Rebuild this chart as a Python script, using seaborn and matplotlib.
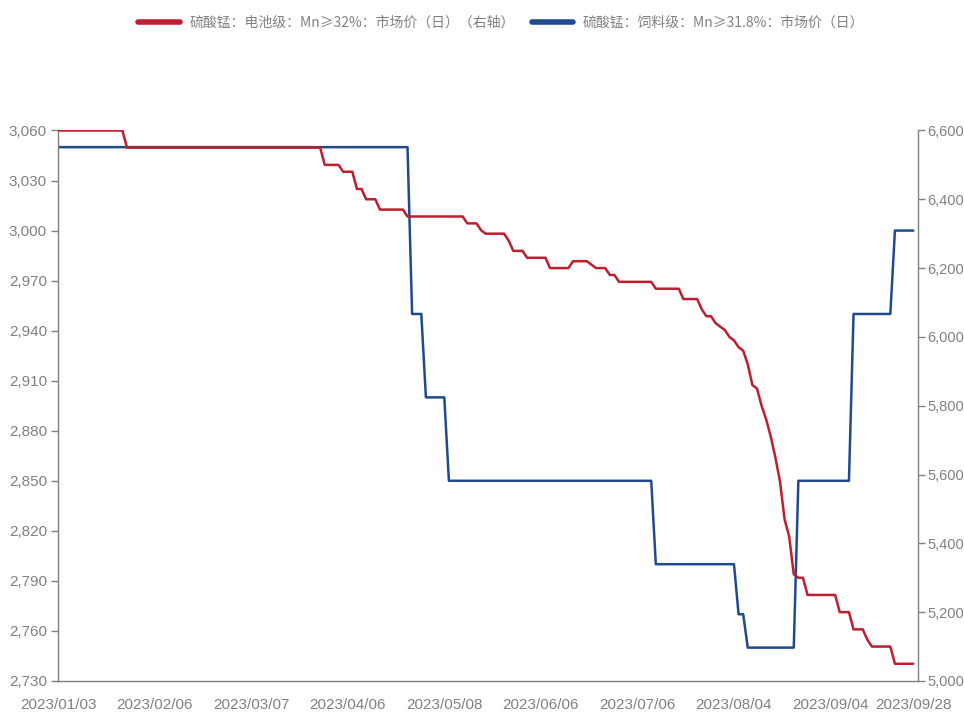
import pandas as pd
import numpy as np
import seaborn as sns
import matplotlib.pyplot as plt
from matplotlib.lines import Line2D
from matplotlib.ticker import FuncFormatter

# ===============================
# Trading calendar (China 2023, incl. weekend make-up workdays)
# ===============================
holidays = ["2023-01-02", "2023-01-23", "2023-01-24", "2023-01-25", "2023-01-26",
            "2023-01-27", "2023-04-05", "2023-05-01", "2023-05-02", "2023-05-03",
            "2023-06-22", "2023-06-23"]
makeup_days = ["2023-01-28", "2023-01-29", "2023-04-23", "2023-05-06", "2023-06-25"]

days = pd.bdate_range("2023-01-03", "2023-09-28")
days = days[~days.isin(pd.to_datetime(holidays))]
days = days.union(pd.to_datetime(makeup_days)).sort_values()

# ===============================
# Price change points
# ===============================
battery_dates = ["2023-01-03", "2023-01-29", "2023-03-29", "2023-04-04", "2023-04-10",
                 "2023-04-12", "2023-04-17", "2023-04-24", "2023-05-15", "2023-05-18",
                 "2023-05-19", "2023-05-26", "2023-05-29", "2023-06-01", "2023-06-08",
                 "2023-06-15", "2023-06-21", "2023-06-25", "2023-06-28", "2023-06-30",
                 "2023-07-12", "2023-07-20", "2023-07-26", "2023-07-27", "2023-07-31",
                 "2023-08-01", "2023-08-02", "2023-08-03", "2023-08-04", "2023-08-07",
                 "2023-08-08", "2023-08-09", "2023-08-10", "2023-08-11", "2023-08-14",
                 "2023-08-15", "2023-08-16", "2023-08-17", "2023-08-18", "2023-08-21",
                 "2023-08-22", "2023-08-23", "2023-08-24", "2023-08-28", "2023-09-06",
                 "2023-09-11", "2023-09-14", "2023-09-15", "2023-09-22"]
battery_price = [6600, 6550, 6500, 6480, 6430,
                 6400, 6370, 6350, 6330, 6310,
                 6300, 6280, 6250, 6230, 6200,
                 6220, 6210, 6200, 6180, 6160,
                 6140, 6110, 6080, 6060, 6040,
                 6030, 6020, 6000, 5990, 5970,
                 5960, 5920, 5860, 5850, 5800,
                 5760, 5710, 5650, 5580, 5470,
                 5420, 5310, 5300, 5250, 5200,
                 5150, 5120, 5100, 5050]

feed_dates = ["2023-01-03", "2023-04-25", "2023-04-28", "2023-05-09", "2023-07-12",
              "2023-08-07", "2023-08-09", "2023-08-24", "2023-09-11", "2023-09-22"]
feed_price = [3050, 2950, 2900, 2850, 2800,
              2770, 2750, 2850, 2950, 3000]

battery = pd.Series(battery_price, index=pd.to_datetime(battery_dates)).reindex(days).ffill()
feed = pd.Series(feed_price, index=pd.to_datetime(feed_dates)).reindex(days).ffill()

data = pd.DataFrame({"idx": np.arange(len(days)),
                     "battery": battery.values,
                     "feed": feed.values})

label_battery = "硫酸锰：电池级：Mn≥32%：市场价（日）（右轴）"
label_feed = "硫酸锰：饲料级：Mn≥31.8%：市场价（日）"

red = "#BE1E2D"
blue = "#1F4B8E"
gray = "#808080"

# ===============================
# Plot
# ===============================
sns.set_style("white")
plt.rcParams['font.family'] = ['Liberation Sans', 'Noto Sans CJK SC', 'DejaVu Sans']

fig = plt.figure(figsize=(9.64, 7.2), dpi=100)
ax = fig.add_axes([0.0602, 0.0542, 0.892, 0.7646])
ax2 = ax.twinx()

sns.lineplot(data=data, x="idx", y="feed", ax=ax, color=blue, lw=1.8)
sns.lineplot(data=data, x="idx", y="battery", ax=ax2, color=red, lw=1.8)

n = len(days)
ax.set_xlim(0, n)
ax.set_ylim(2730, 3060)
ax.set_yticks(np.arange(2730, 3061, 30))
ax2.set_ylim(5000, 6600)
ax2.set_yticks(np.arange(5000, 6601, 200))

tick_pos = list(range(0, n, 21))
if tick_pos[-1] != n - 1:
    tick_pos.append(n - 1)
ax.set_xticks(tick_pos)
ax.set_xticklabels([days[i].strftime("%Y/%m/%d") for i in tick_pos])

fmt = FuncFormatter(lambda v, p: f"{int(v):,}")
ax.yaxis.set_major_formatter(fmt)
ax2.yaxis.set_major_formatter(fmt)

for a in (ax, ax2):
    a.set_xlabel("")
    a.set_ylabel("")
    a.spines['top'].set_visible(False)
    for s in ('left', 'right', 'bottom'):
        a.spines[s].set_color(gray)
        a.spines[s].set_linewidth(1.0)
    a.tick_params(axis='both', direction='out', length=5, width=1, color=gray,
                  labelcolor=gray, labelsize=11, pad=3)
ax.spines['right'].set_visible(False)
ax2.spines['left'].set_visible(False)
ax2.spines['bottom'].set_visible(False)
ax.tick_params(axis='x', pad=7)
ax2.tick_params(axis='y', labelsize=10.5, pad=2)

handles = [Line2D([], [], color=red, lw=4), Line2D([], [], color=blue, lw=4)]
fig.legend(handles, [label_battery, label_feed], loc='upper center',
           bbox_to_anchor=(0.52, 0.995), ncol=2, frameon=False,
           handlelength=3.0, columnspacing=1.2, handletextpad=0.7,
           prop={'family': ['Noto Sans CJK SC', 'DejaVu Sans'], 'size': 10},
           labelcolor=gray)

fig.savefig("out.png", dpi=100)
